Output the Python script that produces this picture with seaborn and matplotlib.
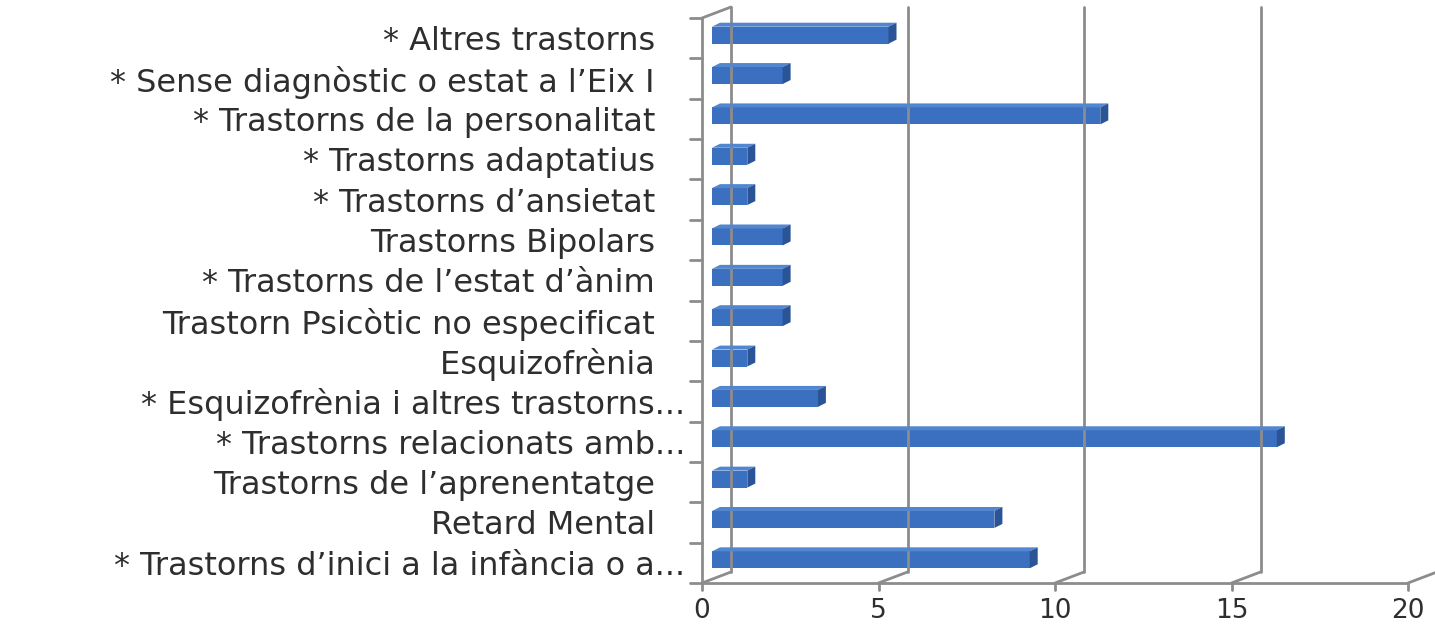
import numpy as np
import pandas as pd
import matplotlib
matplotlib.use('Agg')
import matplotlib.pyplot as plt
import seaborn as sns
from matplotlib.patches import Polygon

###########
# Data    #
###########
categories = [
    "* Altres trastorns",
    "* Sense diagnòstic o estat a l\u2019Eix I",
    "* Trastorns de la personalitat",
    "* Trastorns adaptatius",
    "* Trastorns d\u2019ansietat",
    "Trastorns Bipolars",
    "* Trastorns de l\u2019estat d\u2019ànim",
    "Trastorn Psicòtic no especificat",
    "Esquizofrènia",
    "* Esquizofrènia i altres trastorns...",
    "* Trastorns relacionats amb...",
    "Trastorns de l\u2019aprenentatge",
    "Retard Mental",
    "* Trastorns d\u2019inici a la infància o a...",
]
values = [5, 2, 11, 1, 1, 2, 2, 2, 1, 3, 16, 1, 8, 9]
x_ticks = [0, 5, 10, 15, 20]

df = pd.DataFrame({'categoria': categories, 'n': values})

#############
# Styling   #
#############
FRONT = '#3b70c0'
TOP = '#5286cf'
SIDE = '#2a5496'
GRID = '#8c8c8c'
TEXT = '#2e2e2e'

W, H = 1435, 627
fig = plt.figure(figsize=(W / 100, H / 100), dpi=100)
sns.set_style('white')
plt.rcParams['font.family'] = ['DejaVu Sans']

# front plane of the fake 3D box (pixels)
x0_px, x1_px, ytop_px, ybot_px = 702, 1408, 18, 583
ax = fig.add_axes([x0_px / W, 1 - ybot_px / H,
                   (x1_px - x0_px) / W, (ybot_px - ytop_px) / H])

sns.barplot(data=df, y='categoria', x='n', orient='h', width=0.42,
            color=FRONT, saturation=1, ax=ax, edgecolor='none')
ax.set_xlim(0, 20)
ax.set_ylim(len(categories) - 0.5, -0.5)

# unit conversions
px_x = 20 / (x1_px - x0_px)
px_y = len(categories) / (ybot_px - ytop_px)

DX, DY = 29 * px_x, 11 * px_y      # full depth of the box
BX, BY = 10 * px_x, 3 * px_y       # bars sit part-way into the box
TX, TY = 8 * px_x, 4 * px_y        # bar depth

# 3D faces of the bars
for p in ax.patches:
    p.set_x(p.get_x() + BX)
    p.set_y(p.get_y() - BY)
    xa = p.get_x()
    xb = xa + p.get_width()
    yt = p.get_y()
    yb = yt + p.get_height()
    ax.add_patch(Polygon([(xa, yt), (xa + TX, yt - TY), (xb + TX, yt - TY), (xb, yt)],
                         closed=True, facecolor=TOP, edgecolor='none', zorder=3))
    ax.add_patch(Polygon([(xb, yt), (xb + TX, yt - TY), (xb + TX, yb - TY), (xb, yb)],
                         closed=True, facecolor=SIDE, edgecolor='none', zorder=3))

# walls and gridlines
ytop, ybot = -0.5, len(categories) - 0.5
lw = 2.0
for xv in x_ticks:
    ax.plot([xv + DX, xv + DX], [ybot - DY, ytop - DY], color=GRID, lw=lw,
            clip_on=False, zorder=1)
    ax.plot([xv, xv + DX], [ybot, ybot - DY], color=GRID, lw=lw,
            clip_on=False, zorder=1)
    ax.plot([xv, xv], [ybot, ybot + 7 * px_y], color=GRID, lw=lw,
            clip_on=False, zorder=1)
ax.plot([0, 0], [ybot, ytop], color=GRID, lw=lw, clip_on=False, zorder=1)
ax.plot([0, DX], [ytop, ytop - DY], color=GRID, lw=lw, clip_on=False, zorder=1)
ax.plot([0, 20], [ybot, ybot], color=GRID, lw=lw, clip_on=False, zorder=1)

# left axis ticks at category boundaries
for yv in np.arange(len(categories) + 1) - 0.5:
    ax.plot([-12 * px_x, 0], [yv, yv], color=GRID, lw=lw, clip_on=False, zorder=1)

for s in ax.spines.values():
    s.set_visible(False)

# labels
ax.set_xticks(x_ticks)
ax.set_xticklabels([str(t) for t in x_ticks], fontsize=19, color=TEXT)
ax.tick_params(axis='x', length=0, pad=11)
ax.set_yticks(range(len(categories)))
labels = [c if c.endswith('...') else c + '   ' for c in categories]
ax.set_yticklabels(labels, fontsize=23, color=TEXT)
ax.tick_params(axis='y', length=0, pad=12)
ax.set_xlabel('')
ax.set_ylabel('')

fig.savefig('out.png', dpi=100, facecolor='white')
